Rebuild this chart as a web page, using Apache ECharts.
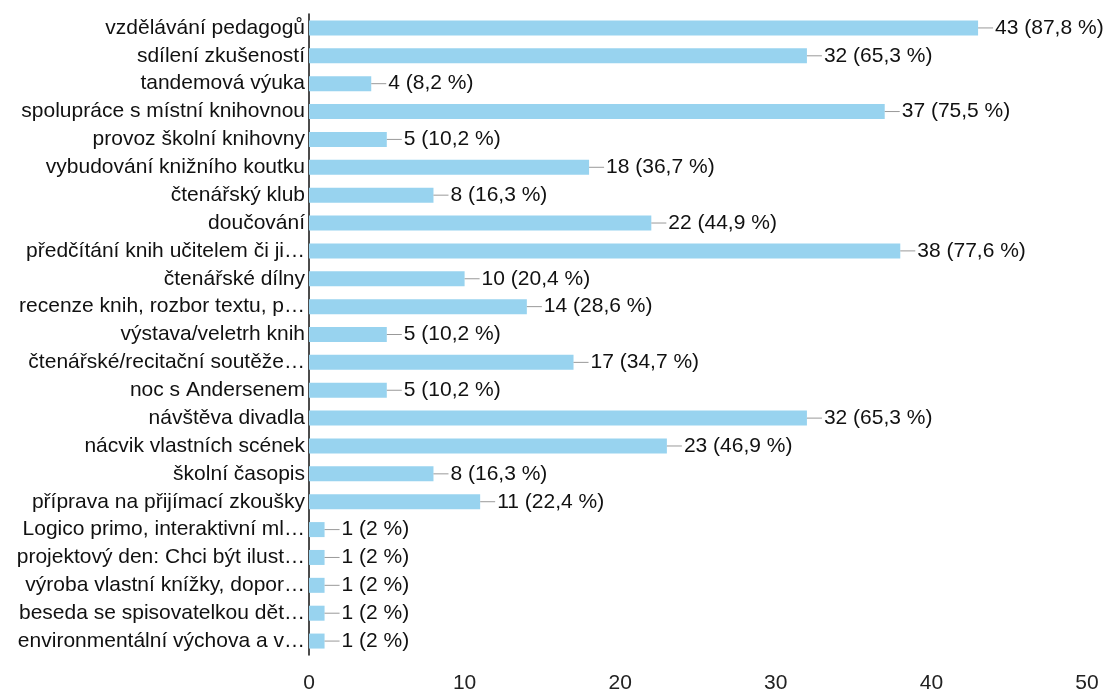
<!DOCTYPE html>
<html><head><meta charset="utf-8">
<script src="https://cdn.jsdelivr.net/npm/echarts@6/dist/echarts.min.js"></script>
<style>html,body{margin:0;padding:0;background:#fff}#c{width:1115px;height:690px}</style>
</head><body><div id="c"></div>
<script>
const categories = ["vzdělávání pedagogů","sdílení zkušeností","tandemová výuka","spolupráce s místní knihovnou","provoz školní knihovny","vybudování knižního koutku","čtenářský klub","doučování","předčítání knih učitelem či ji…","čtenářské dílny","recenze knih, rozbor textu, p…","výstava/veletrh knih","čtenářské/recitační soutěže…","noc s Andersenem","návštěva divadla","nácvik vlastních scének","školní časopis","příprava na přijímací zkoušky","Logico primo, interaktivní ml…","projektový den: Chci být ilust…","výroba vlastní knížky, dopor…","beseda se spisovatelkou dět…","environmentální výchova a v…"];
const values = [43,32,4,37,5,18,8,22,38,10,14,5,17,5,32,23,8,11,1,1,1,1,1];
const percents = ["87,8","65,3","8,2","75,5","10,2","36,7","16,3","44,9","77,6","20,4","28,6","10,2","34,7","10,2","65,3","46,9","16,3","22,4","2","2","2","2","2"];
const xTicks = [0,10,20,30,40,50];

const FONT = 'Liberation Sans';
const chart = echarts.init(document.getElementById('c'));
chart.setOption({
  animation:false,
  grid:{left:309,right:28,top:14,bottom:35,containLabel:false,outerBoundsMode:'none'},
  xAxis:{type:'value',min:xTicks[0],max:xTicks[xTicks.length-1],interval:10,
    axisLine:{show:false},axisTick:{show:false},splitLine:{show:false},
    axisLabel:{margin:18,fontSize:21,color:'#222',fontFamily:FONT}},
  yAxis:{type:'category',data:categories,inverse:true,
    axisLine:{show:true,lineStyle:{color:'#111',width:1.5}},axisTick:{show:false},
    axisLabel:{margin:4,fontSize:21,color:'#111',fontFamily:FONT}},
  series:[{type:'bar',data:values,barWidth:15,itemStyle:{color:'#98d3ef'},
    label:{show:true,position:'right',distance:0,
      formatter:p=>'{l|}{v|'+p.value+' ('+percents[p.dataIndex]+' %)}',
      rich:{l:{width:15,height:1,backgroundColor:'#999'},
            v:{fontSize:21,color:'#111',fontFamily:FONT,padding:[0,0,0,2]}}}}]
});
</script></body></html>
